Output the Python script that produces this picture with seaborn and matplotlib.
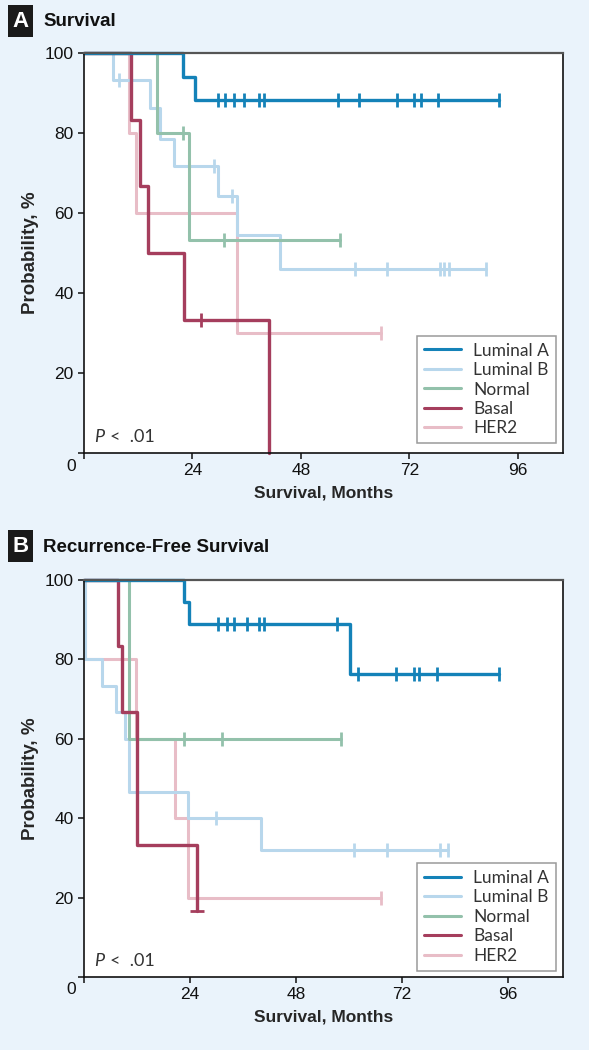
import numpy as np
import pandas as pd
import matplotlib
matplotlib.use('Agg')
import matplotlib.pyplot as plt
from matplotlib.patches import Rectangle
import seaborn as sns

# ---- data (months, % surviving) ----
groups = ['Luminal A', 'Luminal B', 'Normal', 'Basal', 'HER2']
colors = {'Luminal A': '#1482b8', 'Luminal B': '#b8d7ec', 'Normal': '#93c1ab',
          'Basal': '#a53e5d', 'HER2': '#e8bdc7'}

# Panel A: overall survival
a_luma_t = [0, 21.9, 24.6]
a_luma_s = [100, 94.1, 88.2]
a_luma_c = [29.7, 31.3, 33.3, 35.5, 38.8, 39.9, 56.1, 60.9, 69.2, 73.0, 74.6, 78.3]
a_luma_end = 91.8

a_lumb_t = [0, 6.5, 14.6, 16.8, 20.0, 29.6, 33.8, 43.4]
a_lumb_s = [100, 93.3, 86.2, 78.4, 71.8, 64.3, 54.4, 45.9]
a_lumb_c = [7.7, 28.8, 32.8, 60.0, 67.1, 78.8, 79.7, 80.8]
a_lumb_end = 88.9

a_norm_t = [0, 16.1, 23.3]
a_norm_s = [100, 80, 53.3]
a_norm_c = [22.0, 31.0]
a_norm_end = 56.6

a_basal_t = [0, 10.3, 12.4, 14.2, 22.2, 40.9]
a_basal_s = [100, 83.3, 66.7, 50, 33.3, 0]
a_basal_c = [26.0]
a_basal_end = 40.9

a_her2_t = [0, 10.0, 11.5, 33.8]
a_her2_s = [100, 80, 60, 30]
a_her2_c = []
a_her2_end = 65.8

# Panel B: recurrence-free survival
b_luma_t = [0, 22.7, 23.8, 60.2]
b_luma_s = [100, 94.4, 88.9, 76.2]
b_luma_c = [30.4, 32.4, 34.0, 36.9, 39.6, 40.7, 57.2, 62.1, 70.7, 74.6, 75.8, 79.8]
b_luma_end = 93.9

b_lumb_t = [0, 0.3, 4.1, 7.2, 9.2, 10.1, 23.5, 40.0]
b_lumb_s = [100, 80, 73.3, 66.7, 60, 46.7, 40, 32]
b_lumb_c = [29.8, 61.2, 68.5, 80.5]
b_lumb_end = 82.3

b_norm_t = [0, 10.2]
b_norm_s = [100, 60]
b_norm_c = [22.6, 31.3]
b_norm_end = 58.2

b_basal_t = [0, 7.7, 8.7, 12.1, 25.6]
b_basal_s = [100, 83.3, 66.7, 33.3, 16.7]
b_basal_c = []
b_basal_end = 25.6

b_her2_t = [0, 0.3, 11.8, 20.7, 23.5]
b_her2_s = [100, 80, 60, 40, 20]
b_her2_c = []
b_her2_end = 67.3

panel_a = {
    'Luminal A': (a_luma_t, a_luma_s, a_luma_c, a_luma_end, '|'),
    'Luminal B': (a_lumb_t, a_lumb_s, a_lumb_c, a_lumb_end, '|'),
    'Normal': (a_norm_t, a_norm_s, a_norm_c, a_norm_end, '|'),
    'Basal': (a_basal_t, a_basal_s, a_basal_c, a_basal_end, None),
    'HER2': (a_her2_t, a_her2_s, a_her2_c, a_her2_end, '|'),
}
panel_b = {
    'Luminal A': (b_luma_t, b_luma_s, b_luma_c, b_luma_end, '|'),
    'Luminal B': (b_lumb_t, b_lumb_s, b_lumb_c, b_lumb_end, '|'),
    'Normal': (b_norm_t, b_norm_s, b_norm_c, b_norm_end, '|'),
    'Basal': (b_basal_t, b_basal_s, b_basal_c, b_basal_end, '_'),
    'HER2': (b_her2_t, b_her2_s, b_her2_c, b_her2_end, '|'),
}

x_ticks = [0, 24, 48, 72, 96]
y_ticks = [0, 20, 40, 60, 80, 100]

sns.set_style('ticks')
plt.rcParams['font.family'] = ['Liberation Sans', 'DejaVu Sans']

bg = '#eaf3fb'
fig = plt.figure(figsize=(5.89, 10.5), dpi=100, facecolor=bg)


def km_frame(times, surv, end):
    # step curve points: each event time plus the last follow-up time
    return pd.DataFrame({'month': list(times) + [end],
                         'pct': list(surv) + [surv[-1]]})


def draw_panel(ax, panel, xmax, legend_y):
    ax.set_facecolor('white')
    draw_order = ['HER2', 'Luminal B', 'Normal', 'Basal', 'Luminal A']
    handles = {}
    for name in draw_order:
        times, surv, cens, end, end_mark = panel[name]
        col = colors[name]
        lw = 2.4 if name in ('Luminal A', 'Basal') else 2.2
        df = km_frame(times, surv, end)
        sns.lineplot(data=df, x='month', y='pct', drawstyle='steps-post',
                     estimator=None, sort=False, color=col, lw=lw,
                     ax=ax, label=name, clip_on=False)
        handles[name] = ax.lines[-1]
        # censoring ticks sit on the current level of the curve
        idx = np.searchsorted(times, cens, side='right') - 1
        cy = [surv[i] for i in idx]
        if len(cens):
            ax.plot(cens, cy, ls='none', marker='|', ms=9.5, mew=2, color=col, clip_on=False)
        if end_mark:
            ax.plot([end], [surv[-1]], ls='none', marker=end_mark, ms=9.5, mew=2,
                    color=col, clip_on=False)

    ax.set_xlim(0, xmax)
    ax.set_ylim(0, 100)
    ax.set_xticks(x_ticks)
    ax.set_xticklabels([''] + [str(t) for t in x_ticks[1:]])
    ax.set_yticks(y_ticks)
    ax.set_yticklabels([''] + [str(t) for t in y_ticks[1:]])
    ax.tick_params(direction='out', length=4.5, width=1.1, pad=3, labelsize=12.5, colors='#111')
    for s in ['left', 'bottom', 'right']:
        ax.spines[s].set_visible(True)
        ax.spines[s].set_color('#111')
        ax.spines[s].set_linewidth(1.2)
    ax.spines['top'].set_visible(True)
    ax.spines['top'].set_color('#555')
    ax.spines['top'].set_linewidth(1.6)
    ax.set_xlabel('Survival, Months', fontsize=12.5, fontweight='bold', labelpad=5)
    ax.set_ylabel('Probability, %', fontsize=13.5, fontweight='bold', labelpad=4)

    leg = ax.legend([handles[g] for g in groups], groups, loc='lower right',
                    bbox_to_anchor=(0.985, legend_y), borderaxespad=0,
                    fancybox=False, framealpha=1, edgecolor='#9a9a9a',
                    prop={'family': 'Lato', 'size': 12.5}, labelspacing=0.2,
                    handlelength=2.1, handletextpad=0.7, borderpad=0.4)
    leg.get_frame().set_linewidth(1.1)
    for t in leg.get_texts():
        t.set_color('#333')
    for h in leg.get_lines():
        h.set_linewidth(2.2)

    ax.text(0.022, 0.04, 'P', transform=ax.transAxes, fontsize=13,
            family='Lato', style='italic', color='#333', va='center')
    ax.text(0.054, 0.04, '<  .01', transform=ax.transAxes, fontsize=13,
            family='Lato', color='#333', va='center')


ax_a = fig.add_axes([84 / 589, 1 - 453 / 1050, 479 / 589, 400 / 1050])
ax_b = fig.add_axes([84 / 589, 1 - 977 / 1050, 479 / 589, 397 / 1050])
draw_panel(ax_a, panel_a, 106, 0.024)
draw_panel(ax_b, panel_b, 108.4, 0.016)

# corner "0" labels
fig.text(71 / 589, 1 - 466 / 1050, '0', fontsize=12.5, ha='center', va='center', color='#111')
fig.text(71 / 589, 1 - 990 / 1050, '0', fontsize=12.5, ha='center', va='center', color='#111')

# panel headings with black letter boxes
for letter, title, y_top in [('A', 'Survival', 5), ('B', 'Recurrence-Free Survival', 530)]:
    fig.add_artist(Rectangle((8 / 589, 1 - (y_top + 32) / 1050), 25 / 589, 32 / 1050,
                             transform=fig.transFigure, facecolor='#1a1a1a', edgecolor='none'))
    fig.text(20.5 / 589, 1 - (y_top + 16.5) / 1050, letter, color='white', fontsize=16,
             fontweight='bold', ha='center', va='center')
    fig.text(43 / 589, 1 - (y_top + 17) / 1050, title, color='#111', fontsize=13.5,
             fontweight='bold', ha='left', va='center')

fig.savefig('out.png', dpi=100, facecolor=bg)
